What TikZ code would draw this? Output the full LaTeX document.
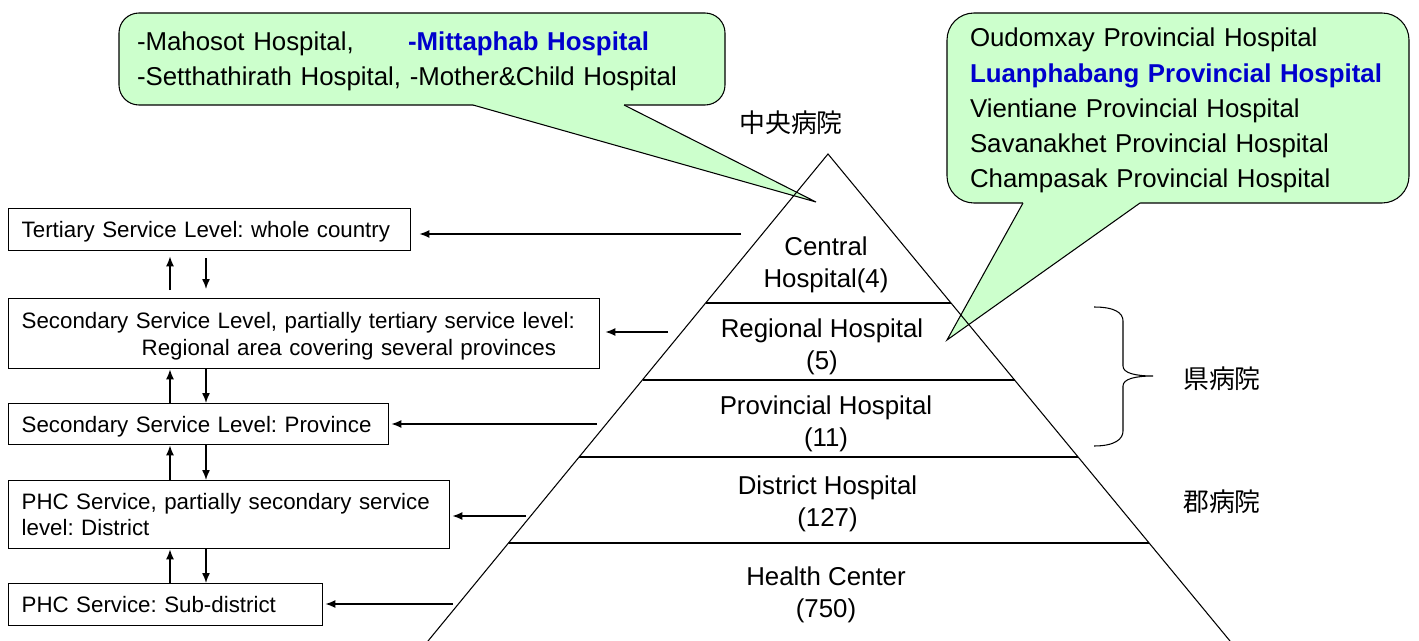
\documentclass[tikz,border=0pt]{standalone}
\usepackage{fontspec}
\setmainfont{Liberation Sans}
\newfontfamily\jpfont{Noto Sans CJK JP}
\usetikzlibrary{arrows.meta}
\frenchspacing
\definecolor{call_green}{RGB}{204, 255, 204}
\definecolor{name_blue}{RGB}{0, 0, 204}
\tikzstyle{none}=[inner sep=0pt]
\tikzstyle{lvl}=[draw=black,line width=0.8pt,anchor=north west,align=left,
  inner xsep=0.26cm,inner ysep=0pt,font=\fontsize{12.7}{15}\selectfont]
\tikzstyle{pyr}=[align=center,font=\fontsize{14.7}{18.2}\selectfont]
\tikzstyle{jp}=[font=\jpfont\fontsize{14.7}{18}\selectfont]
\tikzstyle{callout}=[rectangle,rounded corners=0.4cm,fill=call_green,draw=black,
  line width=0.6pt,align=left,font=\fontsize{14.7}{20}\selectfont]
\tikzstyle{flow}=[line width=0.8pt,-{Latex[length=0.2cm,width=0.16cm]}]

\begin{document}
\begin{tikzpicture}
    \useasboundingbox (0,0) rectangle (28.38,-12.82);
    \node [style=callout, minimum width=12.12cm, minimum height=1.84cm, inner xsep=0.36cm, text width=11.4cm] (c1) at (8.44, -1.18) {\rule{0pt}{13.4pt}\makebox[5.42cm][l]{-Mahosot Hospital,}\textcolor{name_blue}{\textbf{-Mittaphab Hospital}}\\-Setthathirath Hospital, -Mother\&Child Hospital};
    \node [style=none] (c1a) at (9.46, -2.1) {};
    \node [style=none] (c1b) at (12.48, -2.1) {};
    \node [style=none] (c1t) at (16.32, -4.04) {};
    \fill [call_green] (c1a.center) -- (c1t.center) -- (c1b.center) -- ([yshift=0.1cm]c1b.center) -- ([yshift=0.1cm]c1a.center) -- cycle;
    \draw [line width=0.6pt] (c1a.center) to (c1t.center) to (c1b.center);
    \node [style=callout, minimum width=9.24cm, minimum height=3.8cm, inner xsep=0.46cm, text width=8.32cm, rounded corners=0.54cm] (c2) at (23.56, -2.16) {\rule{0pt}{13.6pt}Oudomxay Provincial Hospital\\\textcolor{name_blue}{\textbf{Luanphabang Provincial Hospital}}\\Vientiane Provincial Hospital\\Savanakhet Provincial Hospital\\Champasak Provincial Hospital};
    \node [style=none] (c2a) at (20.46, -4.06) {};
    \node [style=none] (c2b) at (22.8, -4.06) {};
    \node [style=none] (c2t) at (18.94, -6.8) {};
    \fill [call_green] (c2a.center) -- (c2t.center) -- (c2b.center) -- ([yshift=0.1cm]c2b.center) -- ([yshift=0.1cm]c2a.center) -- cycle;
    \draw [line width=0.6pt] (c2a.center) to (c2t.center) to (c2b.center);
    % pyramid
    \node [style=none] (p0) at (16.56, -3.08) {};
    \node [style=none] (p1) at (8.56, -12.82) {};
    \node [style=none] (p2) at (24.6, -12.82) {};
    \node [style=none] (p3) at (14.11, -6.06) {};
    \node [style=none] (p4) at (19.02, -6.06) {};
    \node [style=none] (p5) at (12.85, -7.6) {};
    \node [style=none] (p6) at (20.29, -7.6) {};
    \node [style=none] (p7) at (11.58, -9.14) {};
    \node [style=none] (p8) at (21.56, -9.14) {};
    \node [style=none] (p9) at (10.17, -10.86) {};
    \node [style=none] (p10) at (22.98, -10.86) {};
    \draw [line width=0.6pt] (p1.center) to (p0.center) to (p2.center);
    \draw [line width=1pt] (p3.center) to (p4.center);
    \draw [line width=1pt] (p5.center) to (p6.center);
    \draw [line width=1pt] (p7.center) to (p8.center);
    \draw [line width=1pt] (p9.center) to (p10.center);
    \node [style=pyr] (t1) at (16.52, -5.3) {Central\\Hospital(4)};
    \node [style=pyr] (t2) at (16.44, -6.94) {Regional Hospital\\(5)};
    \node [style=pyr] (t3) at (16.52, -8.48) {Provincial Hospital\\(11)};
    \node [style=pyr] (t4) at (16.55, -10.08) {District Hospital\\(127)};
    \node [style=pyr] (t5) at (16.52, -11.9) {Health Center\\(750)};
    \node [style=jp] (j1) at (15.82, -2.46) {中央病院};
    \node [style=jp] (j2) at (24.44, -7.58) {県病院};
    \node [style=jp] (j3) at (24.44, -10.04) {郡病院};
    % brace
    \coordinate (k1) at (21.88, -6.14);
    \coordinate (k2) at (23.06, -7.52);
    \coordinate (k3) at (21.88, -8.92);
    \draw [line width=0.6pt] (k1) .. controls (22.3, -6.14) and (22.46, -6.26) .. (22.46, -6.42) -- (22.46, -7.32) .. controls (22.46, -7.46) and (22.7, -7.52) .. (k2) .. controls (22.7, -7.52) and (22.46, -7.58) .. (22.46, -7.72) -- (22.46, -8.62) .. controls (22.46, -8.78) and (22.3, -8.92) .. (k3);
    % service levels
    \node [style=lvl, minimum width=8.04cm, minimum height=0.84cm, text width=7.52cm] (b1) at (0.16, -4.16) {\rule{0pt}{11.4pt}Tertiary Service Level: whole country};
    \node [style=lvl, minimum width=11.82cm, minimum height=1.4cm, text width=11.3cm] (b2) at (0.16, -5.96) {\rule{0pt}{12pt}Secondary Service Level, partially tertiary service level:\\\hspace*{2.4cm}Regional area covering several provinces};
    \node [style=lvl, minimum width=7.6cm, minimum height=0.82cm, text width=7.08cm] (b3) at (0.16, -8.06) {\rule{0pt}{12pt}Secondary Service Level: Province};
    \node [style=lvl, minimum width=8.82cm, minimum height=1.36cm, text width=8.3cm] (b4) at (0.16, -9.6) {PHC Service, partially secondary service\\level: District};
    \node [style=lvl, minimum width=6.28cm, minimum height=0.84cm, text width=5.76cm] (b5) at (0.16, -11.66) {PHC Service: Sub-district};
    \coordinate (up) at (3.4, 0);
    \coordinate (dn) at (4.12, 0);
    \draw [style=flow, shorten <=0.16cm, shorten >=0.1cm] (b2.north -| up) to (b1.south -| up);
    \draw [style=flow, shorten <=0.14cm, shorten >=0.18cm] (b1.south -| dn) to (b2.north -| dn);
    \draw [style=flow] (b3.north -| up) to (b2.south -| up);
    \draw [style=flow] (b2.south -| dn) to (b3.north -| dn);
    \draw [style=flow] (b4.north -| up) to (b3.south -| up);
    \draw [style=flow] (b3.south -| dn) to (b4.north -| dn);
    \draw [style=flow] (b5.north -| up) to (b4.south -| up);
    \draw [style=flow] (b4.south -| dn) to (b5.north -| dn);
    \coordinate (h1) at (14.82, -4.68);
    \coordinate (h2) at (13.36, -6.64);
    \coordinate (h3) at (11.94, -8.48);
    \coordinate (h4) at (10.52, -10.32);
    \coordinate (h5) at (9.06, -12.08);
    \draw [style=flow, shorten >=0.16cm] (h1) to (h1 -| b1.east);
    \draw [style=flow, shorten >=0.1cm] (h2) to (h2 -| b2.east);
    \draw [style=flow, shorten >=0.04cm] (h3) to (h3 -| b3.east);
    \draw [style=flow, shorten >=0.04cm] (h4) to (h4 -| b4.east);
    \draw [style=flow, shorten >=0.04cm] (h5) to (h5 -| b5.east);
\end{tikzpicture}
\end{document}
